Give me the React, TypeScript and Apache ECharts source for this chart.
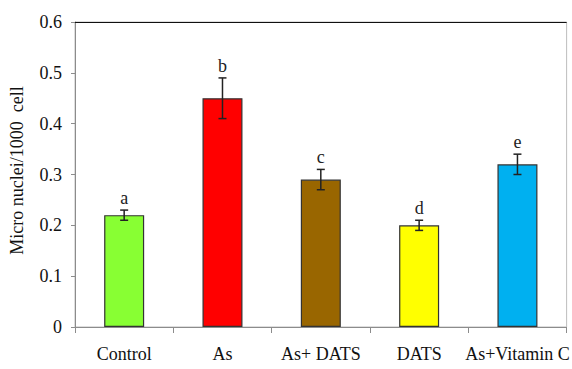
import React, { useEffect, useRef } from "react";
import * as echarts from "echarts";

const categories = ["Control", "As", "As+ DATS", "DATS", "As+Vitamin C"];
const means = [0.22, 0.45, 0.29, 0.2, 0.32];
const errors = [0.01, 0.04, 0.02, 0.01, 0.02];
const letters = ["a", "b", "c", "d", "e"];
const colors = ["#88FF33", "#FF0000", "#996600", "#FFFF00", "#00B0F0"];
const yMin = 0;
const yMax = 0.6;
const yStep = 0.1;

const FONT = "serif";
const FS = 18;

export default function App() {
  const ref = useRef<HTMLDivElement>(null);
  useEffect(() => {
    if (!ref.current) return;
    const chart = echarts.init(ref.current, null, { renderer: "svg" });
    chart.setOption({
      animation: false,
      backgroundColor: "#ffffff",
      grid: { left: 72, right: 1, top: 22, bottom: 42, show: true, borderColor: "#bdbdbd", borderWidth: 1 },
      xAxis: {
        type: "category",
        data: categories,
        boundaryGap: true,
        axisLine: { show: true, lineStyle: { color: "#8c8c8c", width: 1 } },
        axisTick: { show: true, alignWithLabel: false, interval: 0, length: 6, lineStyle: { color: "#8c8c8c" } },
        axisLabel: { color: "#111", fontFamily: FONT, fontSize: FS, margin: 18, interval: 0 },
      },
      yAxis: {
        type: "value",
        min: yMin,
        max: yMax,
        interval: yStep,
        axisLine: { show: true, lineStyle: { color: "#8c8c8c", width: 1 } },
        axisTick: { show: true, length: 4, lineStyle: { color: "#8c8c8c" } },
        splitLine: { show: false },
        axisLabel: { color: "#111", fontFamily: FONT, fontSize: FS, margin: 13 },
        name: "Micro nuclei/1000  cell",
        nameLocation: "middle",
        nameGap: 49,
        nameTextStyle: { color: "#111", fontFamily: FONT, fontSize: FS, padding: [0, 0, 0, 8] },
      },
      series: [
        {
          type: "bar",
          data: means.map((v, i) => ({ value: v, itemStyle: { color: colors[i] } })),
          barWidth: 40,
          itemStyle: { borderColor: "#333", borderWidth: 1.2 },
          z: 2,
          markLine: {
            silent: true,
            symbol: "none",
            label: { show: false },
            lineStyle: { color: "#111", width: 1.2, type: "solid" },
            data: [{ yAxis: yMax }],
          },
        },
        {
          type: "custom",
          data: categories.map((c, i) => [i, means[i], errors[i]]),
          encode: { x: 0, y: 1 },
          z: 3,
          renderItem: (params: any, api: any) => {
            const idx = api.value(0);
            const m = api.value(1);
            const e = api.value(2);
            const top = api.coord([idx, m + e]);
            const bot = api.coord([idx, m - e]);
            const x = top[0];
            const cap = 4;
            const ls = { stroke: "#222", lineWidth: 1.5 };
            return {
              type: "group",
              children: [
                { type: "line", shape: { x1: x, y1: top[1], x2: x, y2: bot[1] }, style: ls },
                { type: "line", shape: { x1: x - cap, y1: top[1], x2: x + cap, y2: top[1] }, style: ls },
                { type: "line", shape: { x1: x - cap, y1: bot[1], x2: x + cap, y2: bot[1] }, style: ls },
                {
                  type: "text",
                  style: {
                    text: letters[idx],
                    x: x,
                    y: top[1] - 3,
                    align: "center",
                    verticalAlign: "bottom",
                    fill: "#222",
                    fontFamily: FONT,
                    fontSize: FS,
                  },
                },
              ],
            };
          },
        },
      ],
    });
    return () => chart.dispose();
  }, []);
  return (
    <div
      ref={ref}
      style={{ position: "fixed", left: 0, top: 0, width: 572, height: 369, background: "#fff" }}
    />
  );
}
